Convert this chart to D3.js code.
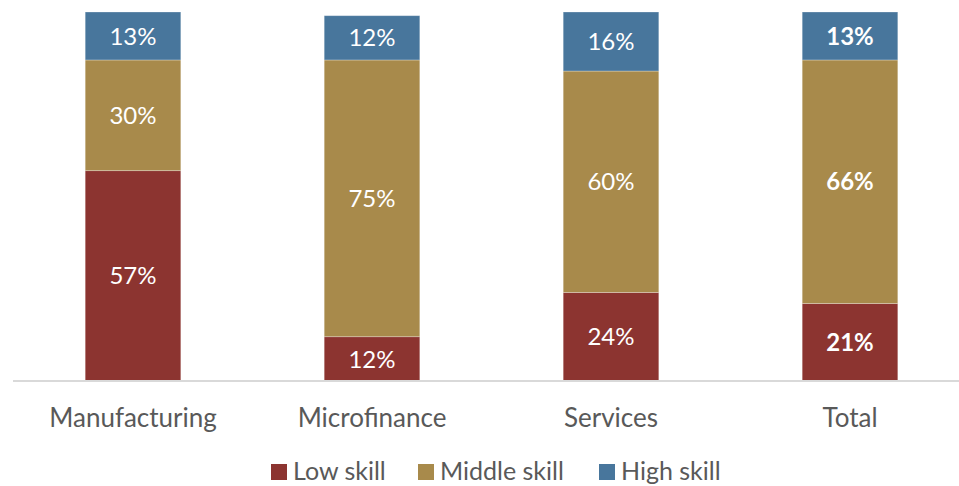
<!DOCTYPE html>
<html>
<head>
<meta charset="utf-8">
<script src="https://cdn.jsdelivr.net/npm/d3@7"></script>
<style>
  body { margin: 0; background: #fff; }
  text { font-family: Lato, "Noto Sans", sans-serif; }
</style>
</head>
<body>
<svg id="chart" width="959" height="486"></svg>
<script>
// Skill composition of employment by sector (% of workers)
const categories = ["Manufacturing", "Microfinance", "Services", "Total"];
const seriesNames = ["Low skill", "Middle skill", "High skill"];
const lowSkill = [57, 12, 24, 21];
const middleSkill = [30, 75, 60, 66];
const highSkill = [13, 12, 16, 13];
const seriesColors = ["#8c3430", "#a88a4b", "#48769c"];

const rows = categories.map((c, i) => ({
  category: c,
  "Low skill": lowSkill[i],
  "Middle skill": middleSkill[i],
  "High skill": highSkill[i]
}));

const svg = d3.select("#chart");
const baseY = 381, topY = 12;

const x = d3.scaleBand()
  .domain(categories)
  .range([13.5, 969.5])
  .paddingInner(0.6)
  .paddingOuter(0.3);

const y = d3.scaleLinear().domain([0, 100]).range([baseY, topY]);
const color = d3.scaleOrdinal().domain(seriesNames).range(seriesColors);

const stacked = d3.stack().keys(seriesNames)(rows);

const layers = svg.append("g")
  .selectAll("g")
  .data(stacked)
  .join("g")
  .attr("fill", d => color(d.key));

layers.selectAll("rect")
  .data(d => d.map(p => ({ key: d.key, p })))
  .join("rect")
  .attr("x", d => x(d.p.data.category))
  .attr("width", x.bandwidth())
  .attr("y", d => y(d.p[1]))
  .attr("height", d => y(d.p[0]) - y(d.p[1]))
  .attr("stroke", "rgba(255,255,255,0.35)")
  .attr("stroke-width", 0.8);

// Value labels centred in each segment; the Total column is bold
layers.selectAll("text")
  .data(d => d.map(p => ({ key: d.key, p })))
  .join("text")
  .attr("x", d => x(d.p.data.category) + x.bandwidth() / 2)
  .attr("y", d => (y(d.p[0]) + y(d.p[1])) / 2)
  .attr("dy", "0.36em")
  .attr("text-anchor", "middle")
  .attr("fill", "#ffffff")
  .style("font-size", "24px")
  .style("font-weight", d => d.p.data.category === "Total" ? "700" : "400")
  .text(d => d.p[1] - d.p[0] + "%");

// Category axis
const axis = svg.append("g")
  .attr("transform", `translate(0,${baseY})`)
  .call(d3.axisBottom(x).tickSize(0).tickPadding(28));
axis.select(".domain")
  .attr("d", `M13,0H959`)
  .attr("stroke", "#d9d9d9")
  .attr("stroke-width", 2);
axis.selectAll(".tick text")
  .style("font-family", "Lato, 'Noto Sans', sans-serif")
  .style("font-size", "26px")
  .attr("fill", "#595959");

// Legend
const legendItems = [
  { name: "Low skill", x: 271 },
  { name: "Middle skill", x: 418 },
  { name: "High skill", x: 599 }
];
const legend = svg.append("g");
const li = legend.selectAll("g").data(legendItems).join("g")
  .attr("transform", d => `translate(${d.x},464)`);
li.append("rect")
  .attr("width", 16).attr("height", 16)
  .attr("fill", d => color(d.name));
li.append("text")
  .attr("x", 22).attr("y", 16)
  .attr("fill", "#595959")
  .style("font-size", "25px")
  .text(d => d.name);
</script>
</body>
</html>
